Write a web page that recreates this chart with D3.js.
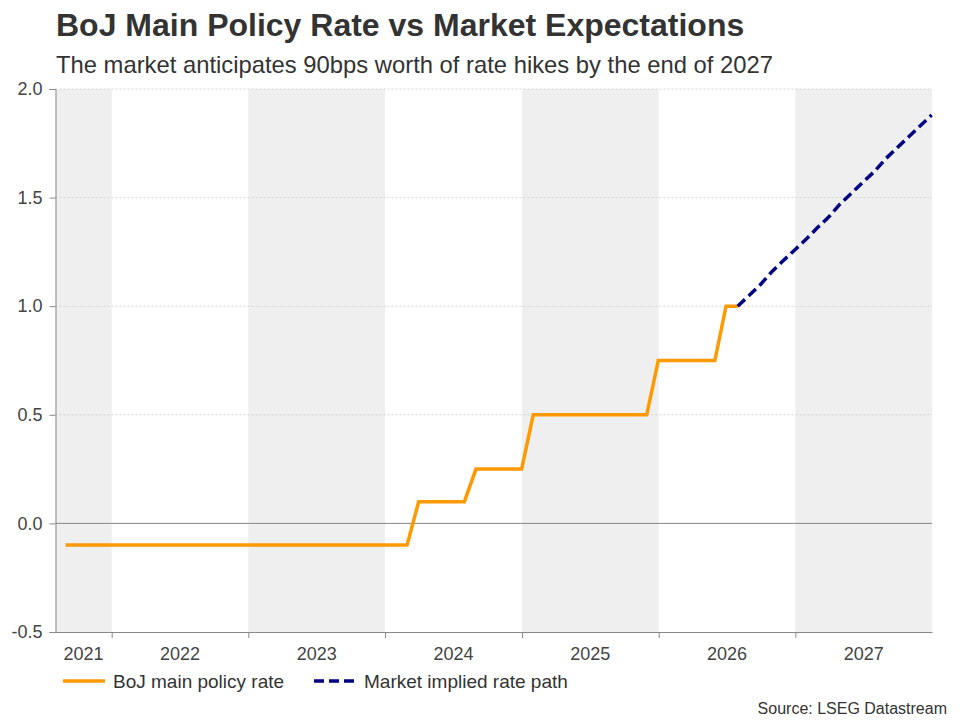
<!DOCTYPE html>
<html><head><meta charset="utf-8">
<script src="https://cdn.jsdelivr.net/npm/d3@7"></script>
<style>body{margin:0;background:#fff;} svg{display:block;font-family:"Liberation Sans",Arial,sans-serif;}</style>
</head><body>
<svg id="c" width="960" height="720"></svg>
<script>
// Data
const policyDates = ["2021-08-31","2021-09-30","2021-10-31","2021-11-30","2021-12-31",
 "2022-01-31","2022-02-28","2022-03-31","2022-04-30","2022-05-31","2022-06-30","2022-07-31","2022-08-31","2022-09-30","2022-10-31","2022-11-30","2022-12-31",
 "2023-01-31","2023-02-28","2023-03-31","2023-04-30","2023-05-31","2023-06-30","2023-07-31","2023-08-31","2023-09-30","2023-10-31","2023-11-30","2023-12-31",
 "2024-01-31","2024-02-29","2024-03-31","2024-04-30","2024-05-31","2024-06-30","2024-07-31","2024-08-31","2024-09-30","2024-10-31","2024-11-30","2024-12-31",
 "2025-01-31","2025-02-28","2025-03-31","2025-04-30","2025-05-31","2025-06-30","2025-07-31","2025-08-31","2025-09-30","2025-10-31","2025-11-30","2025-12-31",
 "2026-01-31","2026-02-28","2026-03-31","2026-04-30","2026-05-31","2026-06-30","2026-07-31"];
const policyRate = [-0.1,-0.1,-0.1,-0.1,-0.1,
 -0.1,-0.1,-0.1,-0.1,-0.1,-0.1,-0.1,-0.1,-0.1,-0.1,-0.1,-0.1,
 -0.1,-0.1,-0.1,-0.1,-0.1,-0.1,-0.1,-0.1,-0.1,-0.1,-0.1,-0.1,
 -0.1,-0.1,0.1,0.1,0.1,0.1,0.1,0.25,0.25,0.25,0.25,0.25,
 0.5,0.5,0.5,0.5,0.5,0.5,0.5,0.5,0.5,0.5,0.5,0.75,
 0.75,0.75,0.75,0.75,0.75,1.0,1.0];
const marketDates = ["2026-07-31","2026-08-31","2026-09-30","2026-10-31","2026-11-30","2026-12-31",
 "2027-01-31","2027-02-28","2027-03-31","2027-04-30","2027-05-31","2027-06-30","2027-07-31","2027-08-31","2027-09-30","2027-10-31","2027-11-30","2027-12-31"];
const marketRate = [1.0,1.05,1.10,1.16,1.21,1.26,1.31,1.36,1.41,1.47,1.52,1.57,1.62,1.68,1.73,1.78,1.83,1.88];
const yearLabels = ["2021","2022","2023","2024","2025","2026","2027"];
const yTicks = [-0.5,0.0,0.5,1.0,1.5,2.0];
const xDomain = ["2021-08-04","2028-01-01"];
const yDomain = [-0.5,2.0];

const svg = d3.select("#c");
const m={l:55.5,r:932,t:89,b:632};
const parse = d3.utcParse("%Y-%m-%d");
const x = d3.scaleUtc().domain(xDomain.map(parse)).range([m.l,m.r]);
const y = d3.scaleLinear().domain(yDomain).range([m.b,m.t]);

// shaded year bands
const yearStarts = yearLabels.map(s=>new Date(Date.UTC(+s,0,1)));
const bands = yearStarts.map((d,i)=>({lab:yearLabels[i],x0:Math.max(x(d),m.l),x1:Math.min(x(new Date(Date.UTC(+yearLabels[i]+1,0,1))),m.r),i}));
svg.append("g").selectAll("rect").data(bands.filter(b=>b.i%2===0)).join("rect")
 .attr("x",b=>b.x0).attr("y",m.t).attr("width",b=>b.x1-b.x0).attr("height",m.b-m.t).attr("fill","#efefef");

// gridlines
svg.append("g").selectAll("line").data(yTicks.filter(v=>v!==0 && v!==-0.5)).join("line")
 .attr("x1",m.l).attr("x2",m.r).attr("y1",v=>y(v)).attr("y2",v=>y(v))
 .attr("stroke","#d4d4d4").attr("stroke-width",1).attr("stroke-dasharray","2,2");
svg.append("line").attr("x1",m.l).attr("x2",m.r).attr("y1",y(0)).attr("y2",y(0)).attr("stroke","#888").attr("stroke-width",1);

// y axis
const yAxis = d3.axisLeft(y).tickValues(yTicks).tickFormat(d=>d.toFixed(1)).tickSize(6).tickPadding(7);
const gy = svg.append("g").attr("transform",`translate(${m.l},0)`).call(yAxis);
gy.select(".domain").attr("stroke","#888");
gy.selectAll(".tick line").attr("stroke","#888");
gy.selectAll(".tick text").attr("fill","#444").style("font-size","18px").style("font-family","Liberation Sans, Arial, sans-serif");

// x axis
const xAxis = d3.axisBottom(x).tickValues(yearStarts.slice(1)).tickFormat("").tickSize(6).tickSizeOuter(0);
const gx = svg.append("g").attr("transform",`translate(0,${m.b})`).call(xAxis);
gx.select(".domain").attr("stroke","#888");
gx.selectAll(".tick line").attr("stroke","#888");
svg.append("g").selectAll("text").data(bands).join("text")
 .attr("x",b=>(b.x0+b.x1)/2).attr("y",660).attr("text-anchor","middle")
 .attr("fill","#444").style("font-size","18px").text(b=>b.lab);

// lines
const line = d3.line().x(d=>x(d[0])).y(d=>y(d[1]));
svg.append("path").datum(policyDates.map((d,i)=>[parse(d),policyRate[i]]))
 .attr("d",line).attr("fill","none").attr("stroke","#ff9900").attr("stroke-width",3.5).attr("stroke-linejoin","miter");
svg.append("path").datum(marketDates.map((d,i)=>[parse(d),marketRate[i]]))
 .attr("d",line).attr("fill","none").attr("stroke","#000080").attr("stroke-width",3.5).attr("stroke-dasharray","10,5");

// title
svg.append("text").attr("x",56).attr("y",36).attr("fill","#333").style("font-size","32px").style("font-weight","bold")
 .text("BoJ Main Policy Rate vs Market Expectations");
svg.append("text").attr("x",56).attr("y",73).attr("fill","#333").style("font-size","23.8px")
 .text("The market anticipates 90bps worth of rate hikes by the end of 2027");

// legend
svg.append("line").attr("x1",63).attr("x2",105).attr("y1",681).attr("y2",681).attr("stroke","#ff9900").attr("stroke-width",3.5);
svg.append("text").attr("x",113).attr("y",688).attr("fill","#333").style("font-size","19px").text("BoJ main policy rate");
svg.append("line").attr("x1",314).attr("x2",356).attr("y1",681).attr("y2",681).attr("stroke","#000080").attr("stroke-width",3.5).attr("stroke-dasharray","10,5");
svg.append("text").attr("x",364).attr("y",688).attr("fill","#333").style("font-size","19px").text("Market implied rate path");

svg.append("text").attr("x",947).attr("y",714).attr("text-anchor","end").attr("fill","#333").style("font-size","16px").text("Source: LSEG Datastream");
</script>
</body></html>
